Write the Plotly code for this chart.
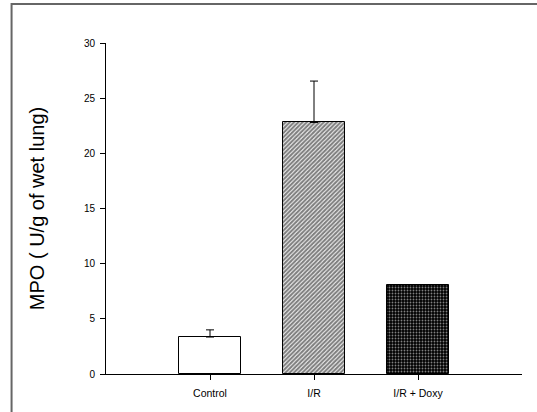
import plotly.graph_objects as go

categories = ["Control", "I/R", "I/R + Doxy"]
values = [3.35, 22.8, 8.03]
errors = [0.65, 3.75, 0.0]
y_ticks = [0, 5, 10, 15, 20, 25, 30]

patterns = [
    dict(shape="", bgcolor="white"),
    dict(shape="/", fgcolor="black", bgcolor="white", size=3, solidity=0.7),
    dict(shape=".", fgcolor="white", bgcolor="black", size=3, solidity=0.3),
]

fig = go.Figure()
for i, c in enumerate(categories):
    fig.add_trace(go.Bar(
        x=[i], y=[values[i]], width=0.6,
        marker=dict(color="white", line=dict(color="black", width=1), pattern=patterns[i]),
        error_y=dict(type="data", array=[errors[i]], arrayminus=[0], symmetric=False,
                     color="black", thickness=1, width=4, visible=errors[i] > 0),
        showlegend=False,
    ))

fig.update_layout(
    width=537, height=412,
    margin=dict(l=106, r=15, t=43, b=38),
    plot_bgcolor="white", paper_bgcolor="white",
    font=dict(family="Liberation Sans, Arial", color="black", size=10),
    bargap=0,
    xaxis=dict(range=[-1, 3], tickmode="array", tickvals=[0, 1, 2], ticktext=categories,
               ticks="outside", ticklen=5, tickcolor="black", showline=True, linecolor="black",
               linewidth=1, showgrid=False, zeroline=False, tickfont=dict(size=10.5),
               ticklabelstandoff=4),
    yaxis=dict(range=[0, 30], tickmode="array", tickvals=y_ticks, ticks="outside", ticklen=5,
               tickcolor="black", showline=True, linecolor="black", linewidth=1,
               showgrid=False, zeroline=False, tickfont=dict(size=10), ticklabelstandoff=3,
               title=dict(text="MPO ( U/g of wet lung)", font=dict(size=20), standoff=33)),
    shapes=[dict(type="rect", xref="paper", yref="paper", x0=-0.227, x1=1.2, y0=-0.3, y1=1.118,
                 line=dict(color="#666666", width=2), layer="below")],
)

fig.write_html("out.html")
